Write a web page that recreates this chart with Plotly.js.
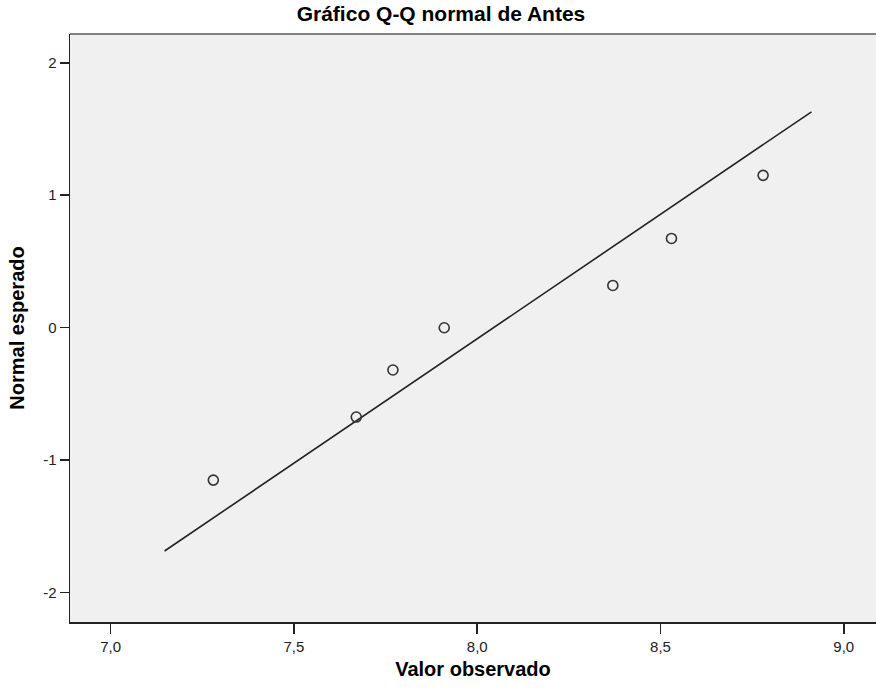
<!DOCTYPE html>
<html>
<head>
<meta charset="utf-8">
<script src="https://cdn.plot.ly/plotly-3.0.1.min.js"></script>
<style>html,body{margin:0;padding:0;background:#fff;}#chart{width:876px;height:690px;}</style>
</head>
<body>
<div id="chart"></div>
<script>
// Observed values (Antes) and expected normal quantiles
var observed = [7.28, 7.67, 7.77, 7.91, 8.37, 8.53, 8.78];
var expectedNormal = [-1.150, -0.674, -0.319, 0.000, 0.319, 0.674, 1.150];
// Reference line x extent
var lineX = [7.147, 8.912];
var xTickVals = [7.0, 7.5, 8.0, 8.5, 9.0];
var xTickText = ["7,0", "7,5", "8,0", "8,5", "9,0"];
var yTickVals = [-2, -1, 0, 1, 2];
var yTickText = ["-2", "-1", "0", "1", "2"];

var n = observed.length;
var mean = observed.reduce(function(a, b){return a + b;}, 0) / n;
var sd = Math.sqrt(observed.reduce(function(a, b){return a + (b - mean) * (b - mean);}, 0) / (n - 1));
var lineY = lineX.map(function(x){return (x - mean) / sd;});

var font = "Liberation Sans, Arial, sans-serif";

var traces = [
  {
    x: lineX, y: lineY, type: "scatter", mode: "lines",
    line: {color: "#222222", width: 1.6},
    hoverinfo: "skip", showlegend: false
  },
  {
    x: observed, y: expectedNormal, type: "scatter", mode: "markers",
    marker: {symbol: "circle-open", size: 10, color: "#333333", line: {width: 1.6, color: "#333333"}},
    showlegend: false
  }
];

var layout = {
  width: 876, height: 690,
  margin: {l: 70, r: 0, t: 34, b: 68, pad: 0},
  paper_bgcolor: "#ffffff",
  plot_bgcolor: "#f0f0f0",
  font: {family: font, color: "#000000"},
  title: {
    text: "<b>Gráfico Q-Q normal de Antes</b>",
    font: {family: font, size: 21, color: "#000000"},
    x: 441 / 876, xref: "container", xanchor: "center",
    y: 1 - 14 / 690, yref: "container", yanchor: "middle"
  },
  xaxis: {
    range: [6.889, 9.088],
    tickvals: xTickVals, ticktext: xTickText,
    ticks: "outside", ticklen: 10, tickwidth: 1.5, tickcolor: "#222222",
    showline: true, linecolor: "#222222", linewidth: 1.5,
    showgrid: false, zeroline: false,
    tickfont: {family: font, size: 15, color: "#222222"},
    title: {text: "<b>Valor observado</b>", font: {family: font, size: 20, color: "#000000"}, standoff: 8}
  },
  yaxis: {
    range: [-2.221, 2.217],
    tickvals: yTickVals, ticktext: yTickText,
    ticks: "outside", ticklen: 9, tickwidth: 1.5, tickcolor: "#222222",
    showline: true, linecolor: "#222222", linewidth: 1.5,
    showgrid: false, zeroline: false,
    tickfont: {family: font, size: 15, color: "#222222"},
    title: {text: "<b>Normal esperado</b>", font: {family: font, size: 20, color: "#000000"}, standoff: 13}
  },
  shapes: [
    {type: "line", xref: "paper", yref: "paper", x0: 0, x1: 1, y0: 1, y1: 1,
     line: {color: "#808080", width: 2}}
  ]
};

Plotly.newPlot("chart", traces, layout, {displayModeBar: false, staticPlot: true});
</script>
</body>
</html>
